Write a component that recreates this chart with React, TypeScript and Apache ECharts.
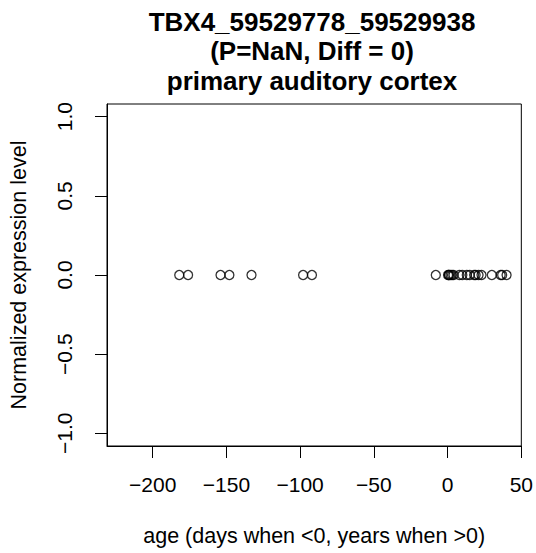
import React, { useEffect, useRef } from "react";
import * as echarts from "echarts";

const titleLines = ["TBX4_59529778_59529938", "(P=NaN, Diff = 0)", "primary auditory cortex"];
const xLabel = "age (days when <0, years when >0)";
const yLabel = "Normalized expression level";

// ages: negative values are days (prenatal), positive values are years
const ages = [
  -182, -176, -154, -148, -133, -98, -92, -8,
  0.3, 0.8, 1, 2, 3, 4, 8, 10, 13, 15, 18, 19, 21, 23, 30, 36, 37, 40,
];
const expression = ages.map(() => 0);

const xTicks = [-200, -150, -100, -50, 0, 50];
const yTicks = [-1, -0.5, 0, 0.5, 1];

const FONT = "'Liberation Sans', Arial, Helvetica, sans-serif";
const minus = (s: string) => s.replace("-", "\u2212");

export default function App() {
  const ref = useRef<HTMLDivElement>(null);
  useEffect(() => {
    if (!ref.current) return;
    document.body.style.margin = "0";
    const chart = echarts.init(ref.current, null, { renderer: "svg" });
    const data = ages.map((a, i) => [a, expression[i]]);
    chart.setOption({
      animation: false,
      backgroundColor: "#ffffff",
      textStyle: { fontFamily: FONT },
      grid: {
        left: 103,
        right: 14,
        top: 104,
        bottom: 107,
        show: true,
        borderColor: "#000",
        borderWidth: 1,
        backgroundColor: "transparent",
      },
      xAxis: {
        type: "value",
        min: -231,
        max: 50,
        splitLine: { show: false },
        axisLine: { show: true, onZero: false, lineStyle: { color: "#000", width: 1 } },
        axisTick: {
          show: true,
          inside: false,
          length: 12,
          lineStyle: { color: "#000", width: 1 },
          customValues: xTicks,
        },
        axisLabel: {
          show: true,
          customValues: xTicks,
          margin: 28,
          fontSize: 21,
          color: "#000",
          fontFamily: FONT,
          formatter: (v: number) => minus(String(v)),
        },
        name: xLabel,
        nameLocation: "middle",
        nameGap: 79,
        nameTextStyle: { fontSize: 21.5, color: "#000", fontFamily: FONT },
      },
      yAxis: {
        type: "value",
        min: -1.08,
        max: 1.08,
        splitLine: { show: false },
        axisLine: { show: true, onZero: false, lineStyle: { color: "#000", width: 1 } },
        axisTick: {
          show: true,
          length: 12,
          lineStyle: { color: "#000", width: 1 },
          customValues: yTicks,
        },
        axisLabel: {
          show: true,
          customValues: yTicks,
          rotate: 90,
          margin: 32,
          fontSize: 21,
          color: "#000",
          fontFamily: FONT,
          formatter: (v: number) => minus(v.toFixed(1)),
        },
        name: yLabel,
        nameLocation: "middle",
        nameRotate: 90,
        nameGap: 77,
        nameTextStyle: { fontSize: 21.5, color: "#000", fontFamily: FONT },
      },
      graphic: titleLines.map((t, i) => ({
        type: "text",
        x: 312,
        y: 21.7 + i * 29.5,
        style: {
          text: t,
          fontSize: 26,
          fontWeight: "bold",
          fontFamily: FONT,
          fill: "#000",
          textAlign: "center",
          textVerticalAlign: "middle",
        },
      })),
      series: [
        {
          type: "scatter",
          data,
          symbol: "circle",
          symbolSize: 9,
          itemStyle: {
            color: "rgba(0,0,0,0)",
            borderColor: "#000",
            borderWidth: 1.3,
          },
          emphasis: { disabled: true },
        },
      ],
    });
    return () => chart.dispose();
  }, []);
  return <div ref={ref} style={{ width: 536, height: 553 }} />;
}
